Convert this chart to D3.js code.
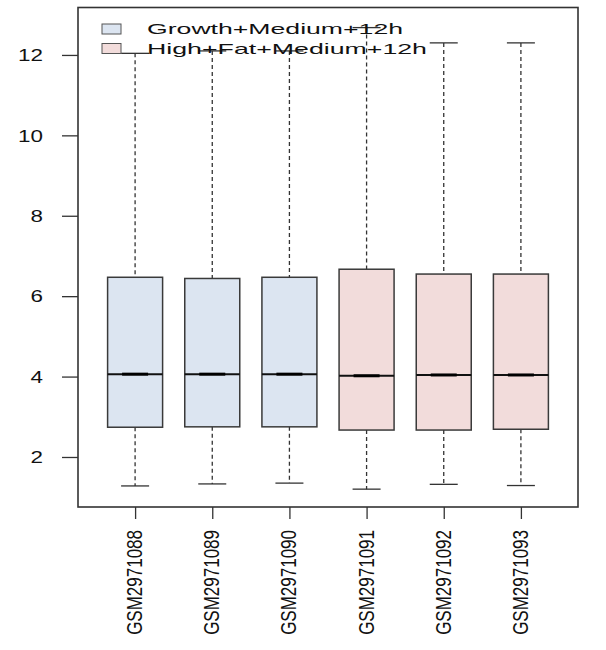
<!DOCTYPE html>
<html>
<head>
<meta charset="utf-8">
<script src="https://cdn.jsdelivr.net/npm/d3@7"></script>
<style>
  body { margin: 0; background: #fff; }
  text { font-family: "Liberation Sans", Arial, sans-serif; fill: #111; }
</style>
</head>
<body>
<svg id="chart" width="606" height="650"></svg>
<script>
// values
var samples = ["GSM2971088", "GSM2971089", "GSM2971090", "GSM2971091", "GSM2971092", "GSM2971093"]
var groups = ["Growth+Medium+12h", "Growth+Medium+12h", "Growth+Medium+12h",
              "High+Fat+Medium+12h", "High+Fat+Medium+12h", "High+Fat+Medium+12h"]
var lowWhisker = [1.28, 1.33, 1.35, 1.20, 1.32, 1.29]
var q1 = [2.74, 2.75, 2.75, 2.67, 2.67, 2.69]
var medians = [4.06, 4.06, 4.06, 4.02, 4.04, 4.04]
var q3 = [6.47, 6.44, 6.47, 6.67, 6.55, 6.55]
var highWhisker = [12.04, 12.10, 12.10, 12.68, 12.30, 12.30]
var legendLabels = ["Growth+Medium+12h", "High+Fat+Medium+12h"]
var legendColors = ["#dce5f1", "#f2dcdb"]
var yTicks = [2, 4, 6, 8, 10, 12]

var svg = d3.select("#chart")
var plotLeft = 78, plotRight = 578, plotTop = 7.5, plotBottom = 507

var x = d3.scaleLinear().domain([0.26, 6.74]).range([plotLeft, plotRight])
var y = d3.scaleLinear().domain([0.756, 13.18]).range([plotBottom, plotTop])
var color = d3.scaleOrdinal().domain(legendLabels).range(legendColors)
var boxW = 55, capW = 28

var data = samples.map(function(s, i) {
  return { name: s, group: groups[i], pos: i + 1, lo: lowWhisker[i], q1: q1[i],
           med: medians[i], q3: q3[i], hi: highWhisker[i] }
})

// y axis
var yAxis = svg.append("g").attr("transform", "translate(" + plotLeft + ",0)")
  .call(d3.axisLeft(y).tickValues(yTicks).tickSize(16).tickFormat(d3.format("d")))
yAxis.select(".domain").remove()
yAxis.selectAll("line").attr("stroke", "#333").attr("stroke-width", 1.3)
yAxis.selectAll("text")
  .attr("x", null).attr("dy", "0.36em")
  .attr("transform", "translate(-35,0) scale(1.4,1)")
  .style("font-size", "16px").style("font-family", "Liberation Sans, Arial, sans-serif")
  .attr("fill", "#111")

// x axis
var xAxis = svg.append("g").attr("transform", "translate(0," + plotBottom + ")")
  .call(d3.axisBottom(x).tickValues(data.map(function(d) { return d.pos })).tickSize(12).tickFormat(""))
xAxis.select(".domain").remove()
xAxis.selectAll("line").attr("stroke", "#333").attr("stroke-width", 1.3)
svg.append("g").selectAll("text").data(data).enter().append("text")
  .attr("transform", function(d) { return "translate(" + (x(d.pos) + 7) + ",530) scale(1.25,1) rotate(-90)" })
  .attr("text-anchor", "end")
  .style("font-size", "17px")
  .text(function(d) { return d.name })

// boxes
var boxes = svg.append("g").selectAll("g").data(data).enter().append("g")
boxes.append("line")
  .attr("x1", function(d) { return x(d.pos) }).attr("x2", function(d) { return x(d.pos) })
  .attr("y1", function(d) { return y(d.hi) }).attr("y2", function(d) { return y(d.q3) })
  .attr("stroke", "#333").attr("stroke-width", 1.3).attr("stroke-dasharray", "4,3")
boxes.append("line")
  .attr("x1", function(d) { return x(d.pos) }).attr("x2", function(d) { return x(d.pos) })
  .attr("y1", function(d) { return y(d.q1) }).attr("y2", function(d) { return y(d.lo) })
  .attr("stroke", "#333").attr("stroke-width", 1.3).attr("stroke-dasharray", "4,3")
boxes.selectAll(".cap").data(function(d) { return [[d.pos, d.hi], [d.pos, d.lo]] }).enter()
  .append("line").attr("class", "cap")
  .attr("x1", function(c) { return x(c[0]) - capW / 2 }).attr("x2", function(c) { return x(c[0]) + capW / 2 })
  .attr("y1", function(c) { return y(c[1]) }).attr("y2", function(c) { return y(c[1]) })
  .attr("stroke", "#333").attr("stroke-width", 1.3)
boxes.append("rect")
  .attr("x", function(d) { return x(d.pos) - boxW / 2 }).attr("width", boxW)
  .attr("y", function(d) { return y(d.q3) }).attr("height", function(d) { return y(d.q1) - y(d.q3) })
  .attr("fill", function(d) { return color(d.group) })
  .attr("stroke", "#3a3a3a").attr("stroke-width", 1.5)
boxes.append("line")
  .attr("x1", function(d) { return x(d.pos) - boxW / 2 }).attr("x2", function(d) { return x(d.pos) + boxW / 2 })
  .attr("y1", function(d) { return y(d.med) }).attr("y2", function(d) { return y(d.med) })
  .attr("stroke", "#111").attr("stroke-width", 2)
boxes.append("line")
  .attr("x1", function(d) { return x(d.pos) - 13 }).attr("x2", function(d) { return x(d.pos) + 13 })
  .attr("y1", function(d) { return y(d.med) }).attr("y2", function(d) { return y(d.med) })
  .attr("stroke", "#000").attr("stroke-width", 3)

// frame
svg.append("rect").attr("x", plotLeft).attr("y", plotTop)
  .attr("width", plotRight - plotLeft).attr("height", plotBottom - plotTop)
  .attr("fill", "none").attr("stroke", "#333").attr("stroke-width", 1.6)

// legend (transparent, as in the original)
var legend = svg.append("g").selectAll("g").data(legendLabels).enter().append("g")
  .attr("transform", function(d, i) { return "translate(102," + (29 + i * 19.5) + ")" })
legend.append("rect").attr("x", 0).attr("y", -5).attr("width", 19).attr("height", 10)
  .attr("fill", function(d) { return color(d) }).attr("stroke", "#555").attr("stroke-width", 1)
legend.append("text").attr("x", 45).attr("dy", "0.36em")
  .attr("textLength", function(d, i) { return i === 0 ? 256 : 280 })
  .attr("lengthAdjust", "spacingAndGlyphs")
  .style("font-size", "15px")
  .text(function(d) { return d })
</script>
</body>
</html>
